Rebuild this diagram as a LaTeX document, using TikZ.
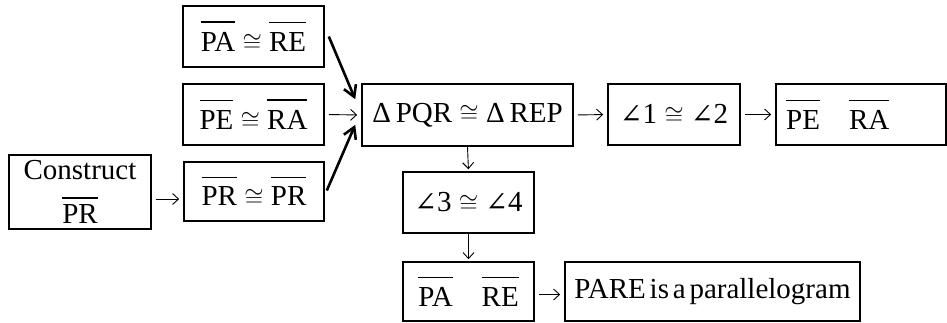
\documentclass[tikz,border=0pt]{standalone}
\usepackage{fontspec}
\setmainfont{Liberation Serif}
\newfontfamily\symfont{DejaVu Serif}
\usetikzlibrary{arrows.meta}
\newcommand{\seg}[2][9pt]{\leavevmode\vbox{\hrule height 1.4pt\kern #1\hbox{#2}}}
\newcommand{\ang}{{\symfont\fontsize{27}{30}\selectfont ∠}}
\begin{document}
\begin{tikzpicture}[x=1pt,y=-1pt,
  box/.style={draw, line width=1.6pt, inner sep=0pt, font=\fontsize{29}{32}\selectfont},
  thinarrow/.style={-{Straight Barb[length=6pt,width=11pt]}, line width=0.9pt, shorten <=4pt, shorten >=4pt},
  thickarrow/.style={-{Straight Barb[length=11pt,width=13pt]}, line width=2.6pt}]
\useasboundingbox (0,0) rectangle (947,322);
\node[box, minimum width=142pt, minimum height=74pt, align=center] (c) at (80,192)
  {Construct\\[12pt] \seg[6pt]{PR}};
\node[box, minimum width=141pt, minimum height=61pt] (pa) at (253.5,36.5) {\seg{PA} $\cong$ \seg{RE}};
\node[box, minimum width=141pt, minimum height=61pt] (pe) at (253.5,114.5) {\seg{PE} $\cong$ \seg{RA}};
\node[box, minimum width=140pt, minimum height=59pt] (pr) at (254,191.5) {\seg{PR} $\cong$ \seg{PR}};
\node[box, minimum width=211pt, minimum height=62pt] (tri) at (467.5,115) {Δ\,PQR $\cong$ Δ\,REP};
\node[box, minimum width=132pt, minimum height=61pt] (a12) at (674,114.5) {\ang1 $\cong$ \ang2};
\node[box, minimum width=170pt, minimum height=61pt] (pera) at (861,114.5) {};
\node[anchor=west, inner sep=0pt, font=\fontsize{29}{32}\selectfont] (peratxt) at (786,114.5) {\seg{PE}\quad\seg{RA}};
\node[box, minimum width=131pt, minimum height=61pt] (a34) at (468.5,202.5) {\ang3 $\cong$ \ang4};
\node[box, minimum width=131pt, minimum height=59pt] (pare) at (468.5,291.5) {\seg{PA}\quad\seg{RE}};
\node[box, minimum width=295pt, minimum height=59pt] (para) at (712.5,291.5) {\spaceskip=3.8pt\relax PARE is a parallelogram};

\draw[thinarrow] (pe.east) -- (tri.west);
\draw[thinarrow] (tri.east) -- (a12.west);
\draw[thinarrow] (a12.east) -- (pera.west);
\draw[thinarrow] ([yshift=-7pt]c.east) -- ([yshift=-7pt]c.east -| pr.west);
\draw[thinarrow] ([yshift=-3pt]pare.east) -- ([yshift=-3pt]pare.east -| para.west);
\draw[thinarrow, shorten <=0pt, shorten >=2pt] (tri.south) -- (a34.north);
\draw[thinarrow, shorten <=0pt, shorten >=2pt] (a34.south) -- (pare.north);
\draw[thickarrow] ([xshift=4pt]pa.east) -- ([shift={(-6pt,-16pt)}]tri.north west);
\draw[thickarrow] ([shift={(2pt,1pt)}]pr.east) -- ([shift={(-6pt,22pt)}]tri.south west);
\end{tikzpicture}
\end{document}
